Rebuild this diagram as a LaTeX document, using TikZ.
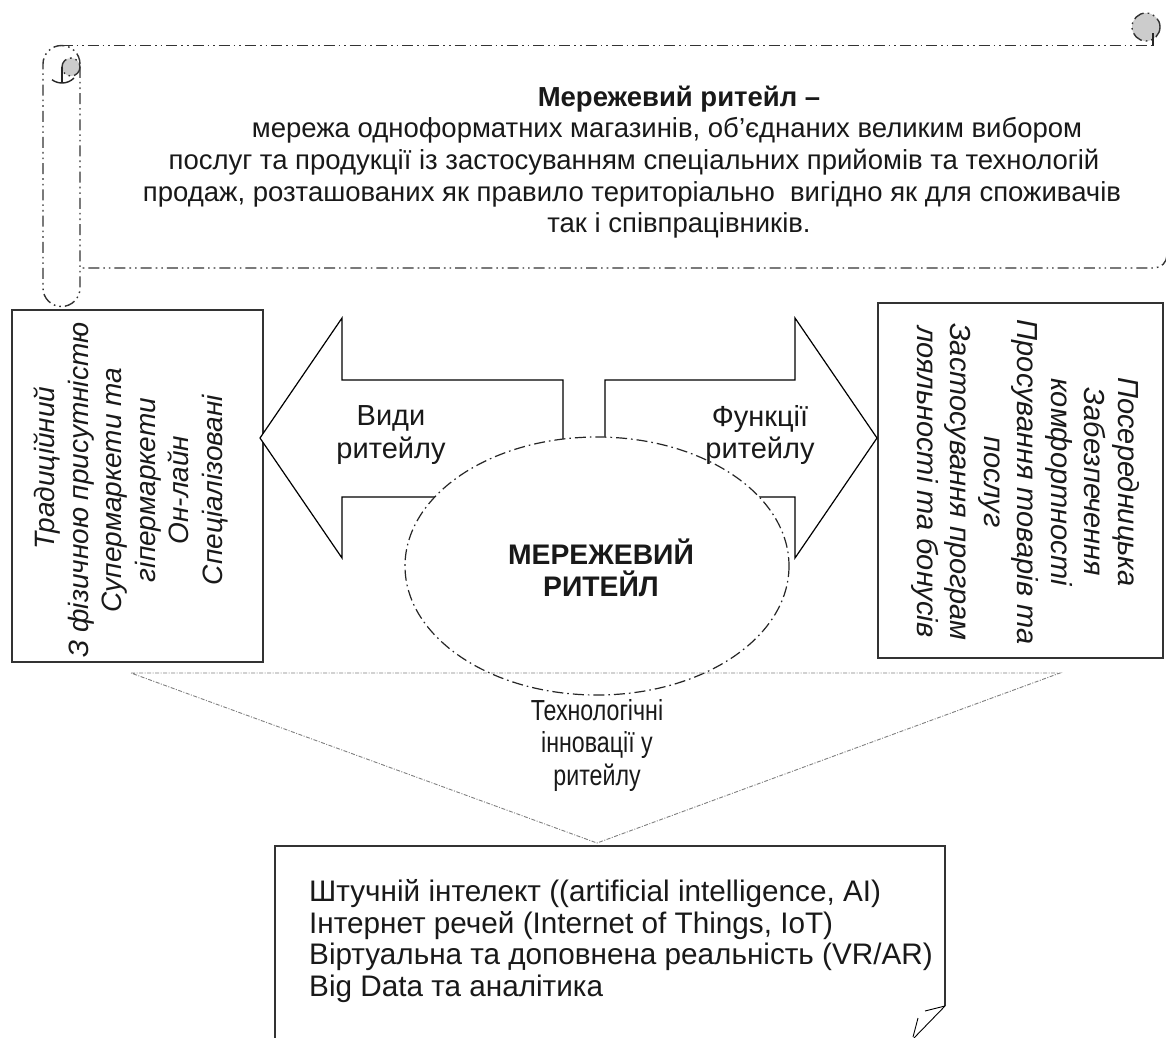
\documentclass[tikz,border=0pt]{standalone}
\usepackage{fontspec}
\setmainfont{Liberation Sans}
\newfontfamily\narrowfont[FakeStretch=0.8]{Liberation Sans}
\newcommand\myfs{\fontsize{27.5}{31.7}\selectfont}
\newcommand\myfsm{\fontsize{29}{32.5}\selectfont}
\newcommand\myfsr{\fontsize{29}{33.5}\selectfont}
\newcommand\myfsrl{\fontsize{28}{33.5}\selectfont}
\newcommand\myfsl{\fontsize{29.7}{31.8}\selectfont}
\begin{document}
\begin{tikzpicture}[x=1pt,y=-1pt,
  scrollline/.style={draw=black!80, line width=1.4pt, dash pattern=on 11pt off 4pt on 1.6pt off 4pt on 1.6pt off 4pt},
  ellline/.style={draw=black!85, line width=1.2pt, dash pattern=on 11pt off 4pt on 1.6pt off 4pt, fill=white},
  triline/.style={draw=black!50, line width=0.9pt, dash pattern=on 4pt off 1.5pt on 1pt off 1.5pt},
  boxline/.style={draw=black!80, line width=1.6pt},
  thinbox/.style={draw=black!80, line width=1.2pt},
  arrline/.style={draw=black, line width=1.2pt, fill=white, line join=miter},
  txt/.style={inner sep=0pt, text=black!90, font=\myfs},
  ]
\useasboundingbox (0,0) rectangle (1166,1037);
\fill[white] (0,0) rectangle (1166,1037);

% ---- scroll ----
\fill[black!20] (1146,27) circle (14);
\draw[scrollline] (1146,27) circle (14);
\draw[black!85, line width=1.4pt] (1153,33) -- (1153,46);
\draw[scrollline] (61.5,45.5) -- (1153,45.5);
\draw[scrollline] (1167,20) -- (1167,255) arc (0:90:13) -- (80,268);
\draw[scrollline] (80,64) arc (0:-180:18.5) -- (43,288) arc (180:0:18.5) -- cycle;
\fill[black!20] (71,67) circle (9);
\draw[scrollline] (71,67) circle (9);
\draw[black!85, line width=1.4pt] (62,67) -- (62,83);
\draw[black!85, line width=1.4pt] (62,66) ++(126:17) arc (126:45:17);

\node[txt, anchor=base, font=\myfs\bfseries] (t1) at (679,106) {Мережевий ритейл –};
\node[txt, anchor=base] (t2) at (667,137) {мережа одноформатних магазинів, об’єднаних великим вибором};
\node[txt, anchor=base] (t3) at (634,169) {послуг та продукції із застосуванням спеціальних прийомів та технологій};
\node[txt, anchor=base] (t4) at (632,201) {продаж, розташованих як правило територіально\ \ вигідно як для споживачів};
\node[txt, anchor=base] (t5) at (679,232) {так і співпрацівників.};

% ---- side boxes ----
\node[boxline, draw, minimum width=251pt, minimum height=352pt, inner sep=0pt] (lbox) at (137.5,486) {};
\node[boxline, draw, minimum width=285pt, minimum height=355pt, inner sep=0pt] (rbox) at (1020.5,480.5) {};
\node[txt, rotate=90, align=center, font=\myfsrl\itshape] (ltxt) at (131,490)
  {\hspace*{44pt}Традиційний\\З фізичною присутністю\\Супермаркети та\\гіпермаркети\\Он-лайн\\Спеціалізовані};
\node[txt, rotate=-90, align=center, font=\myfsr\itshape] (rtxt) at (1025,482)
  {Посередницька\\Забезпечення\\комфортності\\Просування товарів та\\послуг\\Застосування програм\\лояльності та бонусів};

% ---- arrows ----
\draw[arrline] (260,438) -- (342,318) -- (342,380) -- (563,380) -- (563,497) -- (342,497) -- (342,558) -- cycle;
\draw[arrline] (877,438) -- (795,318) -- (795,380) -- (605,380) -- (605,497) -- (795,497) -- (795,558) -- cycle;

% ---- core ellipse ----
\draw[ellline] (597,566) ellipse [x radius=192, y radius=129];
\node[txt, align=center, font=\fontsize{28.3}{31.5}\selectfont\bfseries] (core) at (601,568) {МЕРЕЖЕВИЙ\\РИТЕЙЛ};
\node[txt, align=center, font=\myfsm] (vidy) at (391,435) {Види\\ритейлу};
\node[txt, align=center, font=\myfsm] (func) at (760,435) {Функції\\ритейлу};

% ---- triangle ----
\draw[triline] (131,673) -- (1060,673) -- (597,843) -- cycle;
\node[txt, align=center, font=\narrowfont\myfsm] (tech) at (597,745) {Технологічні\\інновації у\\ритейлу};

% ---- bottom box ----
\draw[thinbox] (275,1040) -- (275,846) -- (945,846) -- (945,1006);
\draw[black, line width=0.9pt] (945,1006) -- (912,1040);
\draw[black, line width=0.9pt] (925,1011) -- (945,1006);
\draw[black, line width=0.9pt] (918,1018) -- (913,1037);
\node[txt, anchor=north west, align=left, font=\myfsl] (list) at (309,879)
  {Штучній інтелект ((artificial intelligence, AI)\\Інтернет речей (Internet of Things, IoT)\\Віртуальна та доповнена реальність (VR/AR)\\Big Data та аналітика};
\end{tikzpicture}
\end{document}
